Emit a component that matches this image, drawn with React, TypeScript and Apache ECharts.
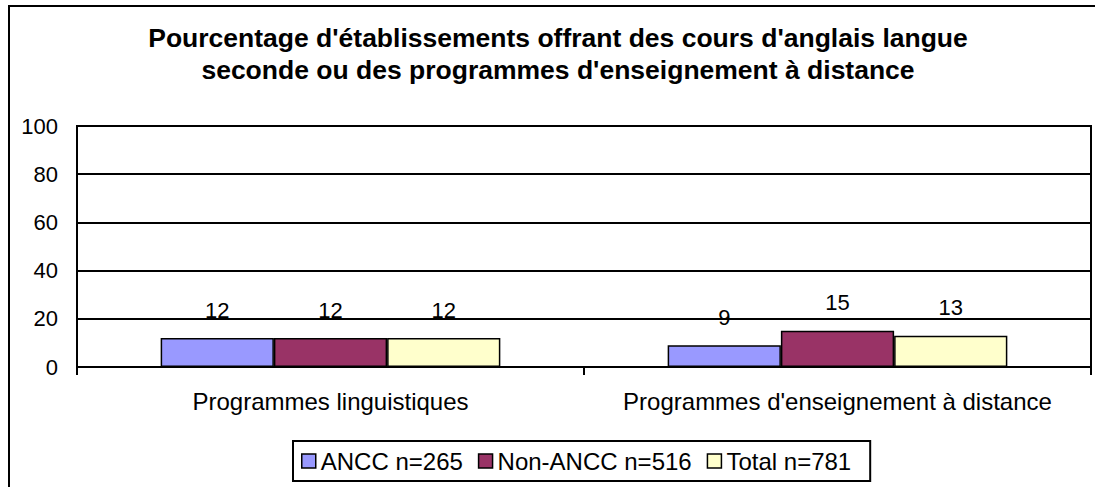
import React, { useEffect, useRef } from "react";
import * as echarts from "echarts";

const categories = ["Programmes linguistiques", "Programmes d'enseignement à distance"];
const seriesNames = ["ANCC n=265", "Non-ANCC n=516", "Total n=781"];
const anccValues = [12, 9];
const nonAnccValues = [12, 15];
const totalValues = [12, 13];
const seriesColors = ["#9999FF", "#993366", "#FFFFCC"];
const titleLines = [
  "Pourcentage d'établissements offrant des cours d'anglais langue",
  "seconde ou des programmes d'enseignement à distance",
];

const FONT = 'Arial, "Liberation Sans", sans-serif';

export default function App() {
  const ref = useRef<HTMLDivElement>(null);
  useEffect(() => {
    if (!ref.current) return;
    const chart = echarts.init(ref.current, null, { renderer: "svg" });
    const values = [anccValues, nonAnccValues, totalValues];
    chart.setOption({
      animation: false,
      backgroundColor: "#ffffff",
      textStyle: { fontFamily: FONT },
      graphic: [
        {
          type: "rect",
          shape: { x: 9, y: 6, width: 1300, height: 700 },
          style: { fill: "none", stroke: "#000", lineWidth: 2 },
          silent: true,
        },
        {
          type: "text",
          x: 558,
          y: 22,
          style: {
            text: titleLines.join("\n"),
            fontFamily: FONT,
            fontSize: 26.5,
            fontWeight: "bold",
            fill: "#000",
            textAlign: "center",
            textVerticalAlign: "top",
            lineHeight: 32,
          },
        },
      ],
      grid: {
        left: 77,
        right: 4,
        top: 126,
        bottom: 120,
        show: true,
        borderColor: "#000",
        borderWidth: 2,
        backgroundColor: "transparent",
      },
      legend: {
        show: true,
        left: 293,
        top: 441,
        orient: "horizontal",
        data: seriesNames,
        itemWidth: 14,
        itemHeight: 14,
        itemGap: 15,
        padding: [8, 19, 8, 8],
        borderColor: "#000",
        borderWidth: 2,
        icon: "rect",
        itemStyle: { borderColor: "#000", borderWidth: 1.5 },
        textStyle: { fontFamily: FONT, fontSize: 24, color: "#000" },
      },
      xAxis: {
        type: "category",
        data: categories,
        axisLine: { show: true, lineStyle: { color: "#000", width: 2 } },
        axisTick: { show: true, length: 8, lineStyle: { color: "#000", width: 2 } },
        axisLabel: { color: "#000", fontFamily: FONT, fontSize: 24, margin: 22, interval: 0 },
        splitLine: { show: false },
      },
      yAxis: {
        type: "value",
        min: 0,
        max: 100,
        interval: 20,
        axisLine: { show: true, lineStyle: { color: "#000", width: 2 } },
        axisTick: { show: false },
        axisLabel: { color: "#000", fontFamily: FONT, fontSize: 22, margin: 19 },
        splitLine: { show: true, lineStyle: { color: "#000", width: 2 } },
      },
      series: seriesNames.map((name, i) => ({
        name,
        type: "bar",
        data: values[i],
        barGap: "0%",
        barCategoryGap: "33%",
        itemStyle: { color: seriesColors[i], borderColor: "#000", borderWidth: 1.5 },
        label: {
          show: true,
          position: "top",
          distance: 17,
          color: "#000",
          fontFamily: FONT,
          fontSize: 22,
        },
      })),
    });
    return () => chart.dispose();
  }, []);
  return (
    <div
      ref={ref}
      style={{ position: "fixed", left: 0, top: 0, width: 1095, height: 487 }}
    />
  );
}
